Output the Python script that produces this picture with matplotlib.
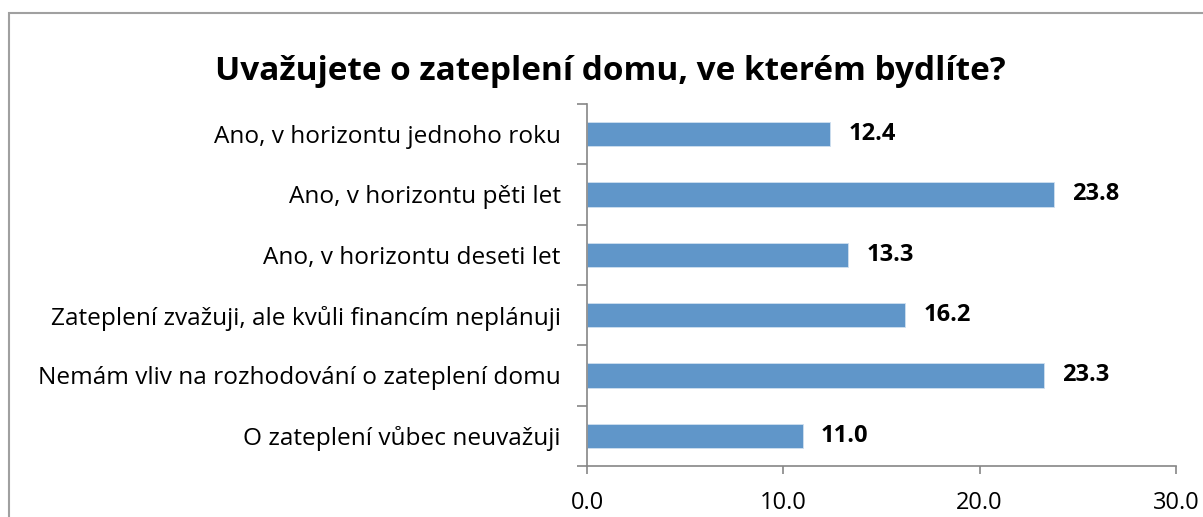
import matplotlib
matplotlib.use("Agg")
import matplotlib.pyplot as plt
from matplotlib.patches import Rectangle

# data
categories = [
    "Ano, v horizontu jednoho roku",
    "Ano, v horizontu pěti let",
    "Ano, v horizontu deseti let",
    "Zateplení zvažuji, ale kvůli financím neplánuji",
    "Nemám vliv na rozhodování o zateplení domu",
    "O zateplení vůbec neuvažuji",
]
values = [12.4, 23.8, 13.3, 16.2, 23.3, 11.0]
x_ticks = [0, 10, 20, 30]

plt.rcParams['font.family'] = ['Open Sans', 'DejaVu Sans']

fig = plt.figure(figsize=(12.03, 5.17), dpi=100)
ax = fig.add_axes([0.488, 0.0986, 0.4895, 0.7004])

# outer chart border like Excel
fig.patches.append(Rectangle((9 / 1203, -0.1), 1.2, 0.1 + 1 - 13 / 517,
                             transform=fig.transFigure, fill=False,
                             edgecolor="#a0a0a0", linewidth=1.5))

pos = list(range(len(categories)))
ax.barh(pos, values, height=0.4, color="#6096C9", edgecolor="#d0e0f0", linewidth=0.6)

for p, v in zip(pos, values):
    ax.annotate(f"{v:.1f}", xy=(v, p), xytext=(13, 0), textcoords="offset points",
                va="center", ha="left", fontsize=17, fontweight="bold")

ax.set_ylim(len(categories) - 0.5, -0.5)
ax.set_xlim(0, 30)
ax.set_yticks(pos)
ax.set_yticklabels(categories, fontsize=17.6)
ax.set_yticks([i - 0.5 for i in range(len(categories) + 1)], minor=True)
ax.tick_params(axis="y", which="major", length=0, pad=19)
ax.tick_params(axis="y", which="minor", length=7, color="#868686", width=1.2)

ax.set_xticks(x_ticks)
ax.set_xticklabels([f"{t:.1f}" for t in x_ticks], fontsize=17)
ax.tick_params(axis="x", length=6, color="#868686", width=1.2, pad=12)

for s in ["top", "right"]:
    ax.spines[s].set_visible(False)
for s in ["left", "bottom"]:
    ax.spines[s].set_color("#868686")
    ax.spines[s].set_linewidth(1.2)

fig.text(0.507, 0.862, "Uvažujete o zateplení domu, ve kterém bydlíte?",
         ha="center", va="center", fontsize=24, fontweight="bold")

fig.savefig("out.png", dpi=100)
